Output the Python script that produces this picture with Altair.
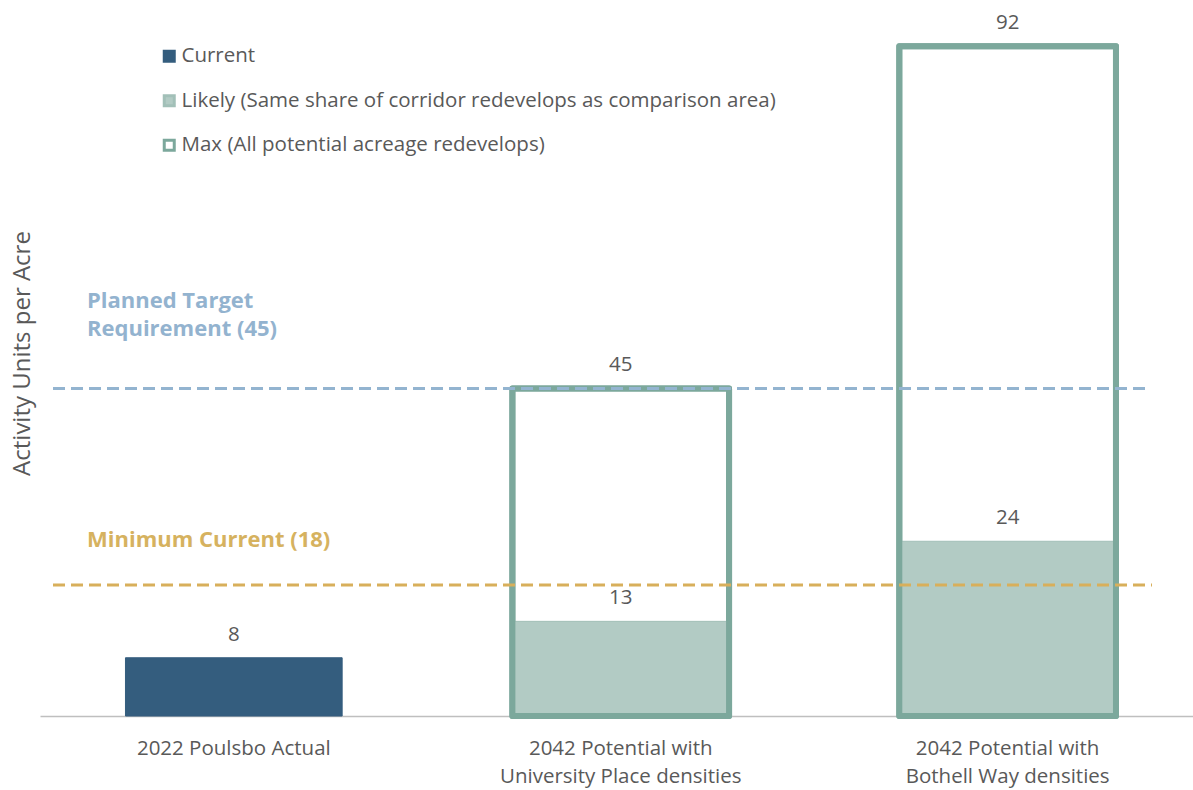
import altair as alt
import pandas as pd

# Categories (axis labels split on "|" into two lines)
categories = [
    "2022 Poulsbo Actual",
    "2042 Potential with|University Place densities",
    "2042 Potential with|Bothell Way densities",
]
series_names = [
    "Current",
    "Likely (Same share of corridor redevelops as comparison area)",
    "Max (All potential acreage redevelops)",
]
current_values = [8, None, None]
likely_values = [None, 13, 24]
max_values = [None, 45, 92]

target_value = 45
target_label = ["Planned Target", "Requirement (45)"]
minimum_value = 18
minimum_label = "Minimum Current (18)"

FONT = "Open Sans"
TEXT_GREY = "#595959"
CURRENT_COLOR = "#345D7E"
LIKELY_COLOR = "#B2CBC4"
LIKELY_EDGE = "#A2C0B8"
MAX_COLOR = "#7CA89C"
TARGET_COLOR = "#93B4D0"
MINIMUM_COLOR = "#D8AF5B"

# Long table; order controls drawing: Current, then Max (white box), then Likely on top
rows = []
for name, vals in [(series_names[0], current_values),
                   (series_names[2], max_values),
                   (series_names[1], likely_values)]:
    for cat, v in zip(categories, vals):
        if v is not None:
            rows.append({"category": cat, "series": name, "value": v})
bar_df = pd.DataFrame(rows)
max_df = bar_df[bar_df["series"] == series_names[2]]

x_enc = alt.X(
    "category:N",
    sort=categories,
    scale=alt.Scale(paddingInner=0.44, paddingOuter=0.21, align=0.526),
    axis=alt.Axis(
        title=None,
        labelExpr="split(datum.label, '|')",
        labelAngle=0,
        labelFont=FONT,
        labelFontSize=20.5,
        labelColor=TEXT_GREY,
        labelPadding=22,
        labelLineHeight=28,
        labelBaseline="top",
        labelLimit=0,
        ticks=False,
        domainColor="#BFBFBF",
        domainWidth=1.5,
        grid=False,
    ),
)

y_enc = alt.Y(
    "value:Q",
    stack=None,
    scale=alt.Scale(domain=[0, 98.35], nice=False, zero=True),
    axis=alt.Axis(
        title="Activity Units per Acre",
        titleFont=FONT,
        titleFontSize=24,
        titleFontWeight="normal",
        titleColor=TEXT_GREY,
        titlePadding=6,
        titleY=353,
        labels=False,
        ticks=False,
        domain=False,
        grid=False,
    ),
)

legend_cfg = dict(
    title=None,
    orient="none",
    legendX=119,
    legendY=46,
    padding=0,
    rowPadding=21.5,
    symbolType="square",
    symbolSize=100,
    symbolStrokeWidth=3,
    labelFont=FONT,
    labelFontSize=20.5,
    labelColor=TEXT_GREY,
    labelOffset=2,
    labelLimit=0,
    direction="vertical",
)

bars = alt.Chart(bar_df).mark_bar(strokeJoin="round").encode(
    x=x_enc,
    y=y_enc,
    fill=alt.Fill(
        "series:N",
        scale=alt.Scale(domain=series_names, range=[CURRENT_COLOR, LIKELY_COLOR, "#FFFFFF"]),
        legend=alt.Legend(**legend_cfg),
    ),
    stroke=alt.Stroke(
        "series:N",
        scale=alt.Scale(domain=series_names, range=[CURRENT_COLOR, LIKELY_EDGE, MAX_COLOR]),
        legend=alt.Legend(**legend_cfg),
    ),
    strokeWidth=alt.condition(
        alt.datum.series == series_names[2], alt.value(6), alt.value(1)
    ),
)

# Thick outline of the Max boxes drawn over the Likely fill
max_outline = alt.Chart(max_df).mark_bar(
    fillOpacity=0, stroke=MAX_COLOR, strokeWidth=6, strokeJoin="round"
).encode(x=x_enc, y=y_enc)

target_df = pd.DataFrame({"value": [target_value]})
minimum_df = pd.DataFrame({"value": [minimum_value]})

target_rule = alt.Chart(target_df).mark_rule(
    color=TARGET_COLOR, strokeWidth=3, strokeDash=[12, 6]
).encode(y=y_enc, x=alt.value(13), x2=alt.value(1110))

minimum_rule = alt.Chart(minimum_df).mark_rule(
    color=MINIMUM_COLOR, strokeWidth=3, strokeDash=[12, 6]
).encode(y=y_enc, x=alt.value(13), x2=alt.value(1112))

target_text = alt.Chart(target_df).mark_text(
    text=target_label, align="left", baseline="middle", dy=-87, lineHeight=28,
    font=FONT, fontSize=22, fontWeight="bold", color="#93B3CF",
).encode(y=y_enc, x=alt.value(47))

minimum_text = alt.Chart(minimum_df).mark_text(
    text=minimum_label, align="left", baseline="middle", dy=-45,
    font=FONT, fontSize=22, fontWeight="bold", color="#D6B25F",
).encode(y=y_enc, x=alt.value(47))

value_labels = alt.Chart(bar_df).mark_text(
    baseline="middle", dy=-23, font=FONT, fontSize=20.5, color=TEXT_GREY
).encode(x=x_enc, y=y_enc, text=alt.Text("value:Q"))

chart = alt.layer(
    bars, max_outline, target_rule, minimum_rule, target_text, minimum_text, value_labels
).properties(
    width=1153,
    height=716,
    padding={"left": 40, "top": 0, "right": 0, "bottom": 74},
    autosize=alt.AutoSizeParams(type="none"),
    background="#FFFFFF",
).configure_view(stroke=None)

chart.save("out.html", embed_options={"renderer": "svg", "actions": False})
